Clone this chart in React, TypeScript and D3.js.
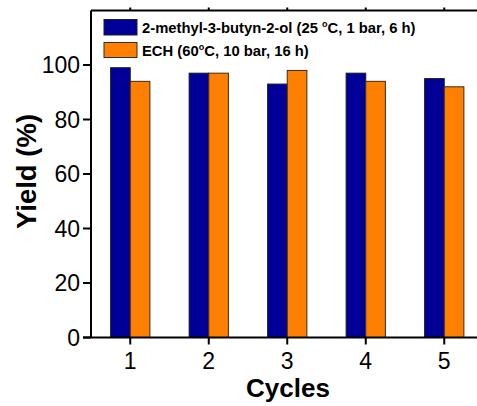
import React from "react";
import * as d3 from "d3";

// Yield per recycling run for the two reactions
const cycles = [1, 2, 3, 4, 5];
const butynolYield = [99, 97, 93, 97, 95];
const echYield = [94, 97, 98, 94, 92];
const yTicks = [0, 20, 40, 60, 80, 100];

const W = 477;
const H = 406;
const left = 91;
const top = 10.5;
const bottom = 337.5;
const right = 483.5;

const BLUE = "#000099";
const ORANGE = "#FF8000";
const FONT = "'Liberation Sans', Arial, Helvetica, sans-serif";

export default function App() {
  const x = d3.scaleLinear().domain([0.5, 5.5]).range([left, right]);
  const y = d3.scaleLinear().domain([0, 120]).range([bottom, top]);
  const barW = x(0.75) - x(0.5);

  return (
    <svg
      width={W}
      height={H}
      style={{ position: "absolute", left: 0, top: 0, background: "#fff" }}
      fontFamily={FONT}
    >
      {/* bars */}
      {cycles.map((c, i) => (
        <g key={c}>
          <rect
            x={x(c) - barW}
            y={y(butynolYield[i])}
            width={barW}
            height={y(0) - y(butynolYield[i])}
            fill={BLUE}
            stroke="#1a1a2a"
            strokeWidth={1}
          />
          <rect
            x={x(c)}
            y={y(echYield[i])}
            width={barW}
            height={y(0) - y(echYield[i])}
            fill={ORANGE}
            stroke="#3a2a1a"
            strokeWidth={1}
          />
        </g>
      ))}

      {/* frame */}
      <line x1={left} x2={right} y1={top} y2={top} stroke="#000" strokeWidth={2} />
      <line x1={left} x2={left} y1={top} y2={bottom} stroke="#000" strokeWidth={2} />
      <line x1={83} x2={right} y1={bottom} y2={bottom} stroke="#000" strokeWidth={2} />

      {/* y axis ticks */}
      {yTicks.map((t) => (
        <g key={t}>
          <line x1={83} x2={left} y1={y(t)} y2={y(t)} stroke="#000" strokeWidth={2} />
          <text
            x={80}
            y={y(t)}
            dy="0.36em"
            textAnchor="end"
            fontSize={23}
            fill="#000"
          >
            {t}
          </text>
        </g>
      ))}

      {/* x axis ticks */}
      {cycles.map((c) => (
        <g key={c}>
          <line x1={x(c)} x2={x(c)} y1={bottom} y2={bottom + 7} stroke="#000" strokeWidth={2} />
          <line x1={x(c)} x2={x(c)} y1={top} y2={top - 3} stroke="#000" strokeWidth={2} />
          <text x={x(c)} y={369} textAnchor="middle" fontSize={23} fill="#000">
            {c}
          </text>
        </g>
      ))}

      {/* axis titles */}
      <text
        x={288}
        y={397}
        textAnchor="middle"
        fontSize={26}
        fontWeight="bold"
        fill="#000"
      >
        Cycles
      </text>
      <text
        transform={`translate(36,171.5) rotate(-90)`}
        textAnchor="middle"
        fontSize={27.5}
        fontWeight="bold"
        fill="#000"
      >
        Yield (%)
      </text>

      {/* legend */}
      <g>
        <rect x={104} y={19.5} width={33} height={15.5} fill={BLUE} stroke="#1a1a2a" strokeWidth={1} />
        <rect x={104} y={42.5} width={33} height={15} fill={ORANGE} stroke="#3a2a1a" strokeWidth={1} />
        <text x={142} y={32.5} fontSize={14.8} fontWeight="bold" fill="#000">
          2-methyl-3-butyn-2-ol (25 <tspan fontSize={9} dy={-6}>o</tspan>
          <tspan dy={6}>C, 1 bar, 6 h)</tspan>
        </text>
        <text x={142} y={55.5} fontSize={14.8} fontWeight="bold" fill="#000">
          ECH (60<tspan fontSize={9} dy={-6}>o</tspan>
          <tspan dy={6}>C, 10 bar, 16 h)</tspan>
        </text>
      </g>
    </svg>
  );
}
